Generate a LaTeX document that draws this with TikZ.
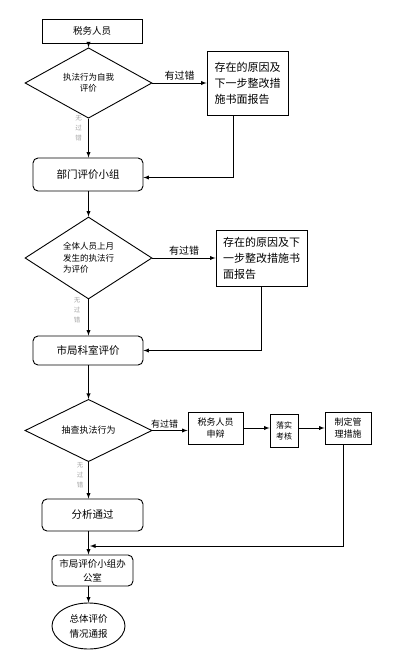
\documentclass[tikz,border=0pt]{standalone}
\usepackage{fontspec}
\setmainfont{Noto Sans CJK SC}
\usetikzlibrary{shapes.geometric}
\newcommand{\fsz}[2]{\fontsize{#1}{#2}\selectfont}
\begin{document}
\begin{tikzpicture}[x=1pt,y=-1pt,->,>=latex,line width=0.9pt,
       block/.style={rectangle,draw,minimum width=100pt,minimum height=24pt,font=\fsz{9.5}{12}},
       rbox/.style={rectangle,draw,rounded corners=5pt,minimum width=110pt,minimum height=31pt,align=center,font=\fsz{10.5}{13}},
       judge/.style={diamond,draw,minimum width=127pt,inner sep=0pt,align=center,font=\fsz{8.5}{11.5}},
       note/.style={rectangle,draw,align=left,inner sep=0pt,font=\fsz{11}{16}},
       comp/.style={rectangle,draw,align=center,inner sep=1pt,font=\fsz{9}{12}},
       fault/.style={font=\fsz{10}{12},inner sep=2pt},
       nofault/.style={gray!70,align=center,inner sep=0pt,font=\fsz{6.5}{10}}]
   \useasboundingbox (0,0) rectangle (400,664);
   % first round
   \node [block] (a1) at (92,31) {税务人员};
   \node [judge,minimum height=47pt] (d1) at (88.5,83) {执法行为自我\\评价};
   \node [note,minimum width=81pt,minimum height=64pt] (r1) at (247.5,83) {存在的原因及\\下一步整改措\\施书面报告};
   \node [rbox,minimum height=33pt] (b2) at (88,174.5) {部门评价小组};
   % second round
   \node [judge,minimum height=72pt,align=left] (d2) at (88.5,258) {全体人员上月\\发生的执法行\\为评价};
   \node [note,minimum width=91pt,minimum height=56pt] (r2) at (261.5,258) {存在的原因及下\\一步整改措施书\\面报告};
   \node [rbox,minimum height=29pt] (b3) at (88,350.5) {市局科室评价};
   % third round
   \node [judge,minimum height=47pt,font=\fsz{9}{12}] (d3) at (88.5,430.5) {抽查执法行为};
   \node [comp,minimum width=55pt,minimum height=32pt] (s1) at (215.5,428) {税务人员\\申辩};
   \node [comp,minimum width=28pt,minimum height=33pt,font=\fsz{8}{11}] (s2) at (284,430.5) {落实\\考核};
   \node [comp,minimum width=46pt,minimum height=32pt] (s3) at (348,428) {制定管\\理措施};
   \node [rbox,minimum width=101pt,minimum height=32pt] (b4) at (92.5,515) {分析通过};
   \node [rbox,minimum width=81pt,minimum height=31pt,font=\fsz{9.5}{14}] (b5) at (92.5,570.5) {市局评价小组办\\公室};
   \node [ellipse,draw,minimum width=73pt,minimum height=46pt,inner sep=0pt,align=center,font=\fsz{9.5}{15}] (e1) at (88.5,626) {总体评价\\情况通报};
   \coordinate (j1) at (90,546);
   % no fault labels
   \node [nofault] (n1) at (78.5,128) {无\\过\\错};
   \node [nofault] (n2) at (77,310) {无\\过\\错};
   \node [nofault] (n3) at (80,475) {无\\过\\错};
   % connectors
   \draw (a1.south -| d1.north) -- (d1.north);
   \draw (d1.east) -- node [fault,above] (f1) {有过错} (r1.west |- d1.east);
   \draw ([xshift=-14pt]r1.south) |- ([yshift=-3pt]b2.east);
   \draw (d1.south) -- (b2.north -| d1.south);
   \draw (b2.south -| d1.south) -- (d2.north);
   \draw (d2.east) -- node [fault,above] (f2) {有过错} (r2.west |- d2.east);
   \draw (r2.south) |- (b3.east);
   \draw (d2.south) -- (b3.north -| d2.south);
   \draw (b3.south -| d2.south) -- (d3.north);
   \draw (d3.east) -- node [fault,above,pos=0.35,font=\fsz{9}{11}] (f3) {有过错} (s1.west |- d3.east);
   \draw (s1.east) -- (s2.west |- s1.east);
   \draw (s2.east |- s1.east) -- (s3.west |- s1.east);
   \draw ([xshift=-5pt]s3.south) |- (j1);
   \draw (d3.south) -- (b4.north -| d3.south);
   \draw (b4.south -| d3.south) -- (b5.north -| d3.south);
   \draw (b5.south -| d3.south) -- (e1.north);
\end{tikzpicture}
\end{document}
